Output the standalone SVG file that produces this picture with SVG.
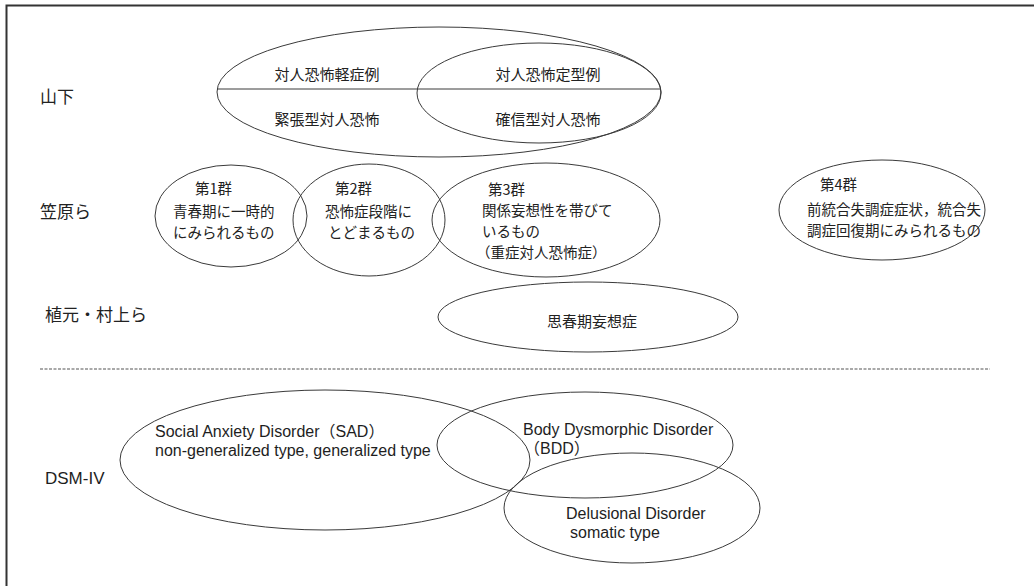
<svg xmlns="http://www.w3.org/2000/svg" width="1034" height="586" viewBox="0 0 1034 586">
<style>
.e{fill:none;stroke:#3a3a3a;stroke-width:1}
.j{font-family:"Noto Sans CJK JP","Liberation Sans",sans-serif;font-size:14.5px;fill:#222}
.t{font-family:"Noto Sans CJK JP","Liberation Sans",sans-serif;font-size:15px;fill:#222}
.lbl{font-family:"Noto Sans CJK JP","Liberation Sans",sans-serif;font-size:17px;fill:#222}
.en{font-family:"Liberation Sans",Arial,"Noto Sans CJK JP",sans-serif;font-size:16px;fill:#1e1e1e}
</style>
<rect x="0" y="0" width="1034" height="586" fill="#fff"/>
<path d="M6.5,600 V5.5 H1040" fill="none" stroke="#333" stroke-width="2"/>
<g id="row-labels">
<text class="lbl" x="40" y="103">山下</text>
<text class="lbl" x="40" y="218">笠原ら</text>
<text class="lbl" x="45" y="321">植元・村上ら</text>
<text class="en" x="45" y="484" style="font-size:17px">DSM-IV</text>
</g>
<g id="connectors">
<line x1="40" y1="369" x2="990" y2="369" stroke="#555" stroke-width="1.2" stroke-dasharray="3,1.5"/>
</g>
<g id="yamashita-outer">
<ellipse class="e" cx="439" cy="92" rx="222" ry="65"/>
<line x1="217" y1="89" x2="661" y2="89" stroke="#3a3a3a" stroke-width="1"/>
<text class="t" x="327" y="80" text-anchor="middle">対人恐怖軽症例</text>
<text class="t" x="327" y="125" text-anchor="middle">緊張型対人恐怖</text>
</g>
<g id="yamashita-inner">
<ellipse class="e" cx="539" cy="93" rx="122" ry="50"/>
<text class="t" x="548" y="80" text-anchor="middle">対人恐怖定型例</text>
<text class="t" x="548" y="125" text-anchor="middle">確信型対人恐怖</text>
</g>
<g id="group1">
<ellipse class="e" cx="231" cy="216" rx="76" ry="51"/>
<text class="j" x="195" y="194">第1群</text>
<text class="j" x="173" y="217">青春期に一時的</text>
<text class="j" x="173" y="238">にみられるもの</text>
</g>
<g id="group2">
<ellipse class="e" cx="369" cy="220" rx="76" ry="56"/>
<text class="j" x="335" y="194">第2群</text>
<text class="j" x="325" y="217">恐怖症段階に</text>
<text class="j" x="328" y="238">とどまるもの</text>
</g>
<g id="group3">
<ellipse class="e" cx="546" cy="220" rx="114" ry="57"/>
<text class="j" x="488" y="195">第3群</text>
<text class="j" x="482" y="216">関係妄想性を帯びて</text>
<text class="j" x="482" y="237">いるもの</text>
<text class="j" x="476" y="258">（重症対人恐怖症）</text>
</g>
<g id="group4">
<ellipse class="e" cx="882" cy="210" rx="103" ry="50"/>
<text class="j" x="820" y="190">第4群</text>
<text class="j" x="807" y="215">前統合失調症症状，統合失</text>
<text class="j" x="807" y="236">調症回復期にみられるもの</text>
</g>
<g id="shishunki">
<ellipse class="e" cx="588" cy="317" rx="150" ry="35"/>
<text class="t" x="592" y="327" text-anchor="middle">思春期妄想症</text>
</g>
<g id="sad">
<ellipse class="e" cx="325" cy="460" rx="205" ry="70"/>
<text class="en" x="155" y="437">Social Anxiety Disorder（SAD）</text>
<text class="en" x="155" y="456">non-generalized type, generalized type</text>
</g>
<g id="bdd">
<ellipse class="e" cx="585" cy="445" rx="148" ry="53"/>
<text class="en" x="523" y="435">Body Dysmorphic Disorder</text>
<text class="en" x="524" y="454">（BDD）</text>
</g>
<g id="delusional">
<ellipse class="e" cx="632" cy="508" rx="128" ry="55"/>
<text class="en" x="566" y="519">Delusional Disorder</text>
<text class="en" x="570" y="538">somatic type</text>
</g>
</svg>
